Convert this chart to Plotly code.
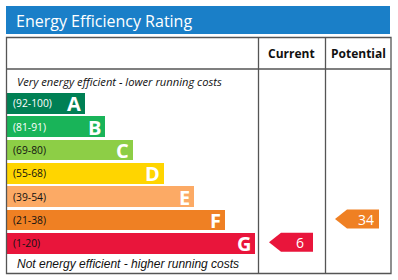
import plotly.graph_objects as go

# ---- data ----
bands = ["A", "B", "C", "D", "E", "F", "G"]
ranges = ["(92-100)", "(81-91)", "(69-80)", "(55-68)", "(39-54)", "(21-38)", "(1-20)"]
lows = [92, 81, 69, 55, 39, 21, 1]
current_rating = 6
potential_rating = 34
title = "Energy Efficiency Rating"
col_headers = ["Current", "Potential"]
top_note = "Very energy efficient - lower running costs"
bottom_note = "Not energy efficient - higher running costs"

# ---- styles ----
colors = ["#008054", "#19b459", "#8dce46", "#ffd500", "#fcaa65", "#ef8023", "#e9153b"]
range_text_colors = ["white", "white", "#111", "#111", "#111", "#111", "#111"]
bar_ends = [85, 105, 133, 164, 194, 225, 255]
bar_left = 7
bar_top0 = 93
bar_pitch = 23.35
bar_h = 20.5
font = "Open Sans"
line_col = "#555"

def band_index(v):
    for i, lo in enumerate(lows):
        if v >= lo:
            return i
    return len(lows) - 1

centers = [bar_top0 + i * bar_pitch + bar_h / 2 for i in range(len(bands))]

fig = go.Figure()
fig.add_trace(go.Bar(
    orientation="h", y=centers, x=[e - bar_left for e in bar_ends], base=bar_left,
    width=bar_h, marker=dict(color=colors, line=dict(width=0)), hoverinfo="skip",
    showlegend=False,
))

annotations = []
for i, b in enumerate(bands):
    annotations.append(dict(x=bar_left + 3.5, y=centers[i], text=ranges[i], xanchor="left",
                            yanchor="middle", showarrow=False,
                            font=dict(family=font, size=10.3, color=range_text_colors[i])))
    annotations.append(dict(x=bar_ends[i] - 2, y=centers[i] + 0.5, text="<b>%s</b>" % b, xanchor="right",
                            yanchor="middle", showarrow=False,
                            font=dict(family=font, size=20, color="white")))

def arrow(x_tip, x_right, value, col):
    i = band_index(value)
    yc = centers[i] - 1
    h = 9.5
    xs = [x_tip, x_tip + 12, x_right, x_right, x_tip + 12, x_tip]
    ys = [yc, yc - h, yc - h, yc + h, yc + h, yc]
    fig.add_trace(go.Scatter(x=xs, y=ys, fill="toself", fillcolor=colors[i], mode="lines",
                             line=dict(width=0, color=colors[i]), hoverinfo="skip", showlegend=False))
    annotations.append(dict(x=(x_tip + 12 + x_right) / 2 + 3, y=yc + 0.5, text=str(value), showarrow=False,
                            xanchor="center", yanchor="middle",
                            font=dict(family=font, size=14, color="white")))

arrow(269, 313, current_rating, colors)
arrow(335, 379, potential_rating, colors)

# title
annotations.append(dict(x=14, y=20.5, text=title, xanchor="left", yanchor="middle", showarrow=False,
                        font=dict(family=font, size=16, color="white")))
annotations.append(dict(x=291.5, y=53, text="<b>%s</b>" % col_headers[0], showarrow=False,
                        xanchor="center", yanchor="middle", font=dict(family=font, size=12, color="#111")))
annotations.append(dict(x=358.5, y=53, text="<b>%s</b>" % col_headers[1], showarrow=False,
                        xanchor="center", yanchor="middle", font=dict(family=font, size=12, color="#111")))
annotations.append(dict(x=15, y=81.5, text="<i>%s</i>" % top_note, xanchor="left", yanchor="middle",
                        showarrow=False, font=dict(family=font, size=11.2, color="#111")))
annotations.append(dict(x=15, y=264, text="<i>%s</i>" % bottom_note, xanchor="left", yanchor="middle",
                        showarrow=False, font=dict(family="Liberation Sans", size=12, color="#111")))

shapes = [
    dict(type="rect", x0=6, x1=390, y0=6, y1=34, fillcolor="#1a7fc8", line=dict(width=0), layer="below"),
    dict(type="rect", x0=6.5, x1=391, y0=37.5, y1=273.5, line=dict(color=line_col, width=1.3)),
    dict(type="line", x0=6.5, x1=391, y0=69, y1=69, line=dict(color=line_col, width=1.3)),
    dict(type="line", x0=258.5, x1=258.5, y0=37.5, y1=273.5, line=dict(color=line_col, width=1.3)),
    dict(type="line", x0=325.5, x1=325.5, y0=37.5, y1=273.5, line=dict(color=line_col, width=1.3)),
]

fig.update_layout(
    width=398, height=280, margin=dict(l=0, r=0, t=0, b=0),
    paper_bgcolor="white", plot_bgcolor="white",
    xaxis=dict(range=[0, 398], visible=False, fixedrange=True),
    yaxis=dict(range=[280, 0], visible=False, fixedrange=True),
    annotations=annotations, shapes=shapes, bargap=0,
)
fig.write_html("out.html")
